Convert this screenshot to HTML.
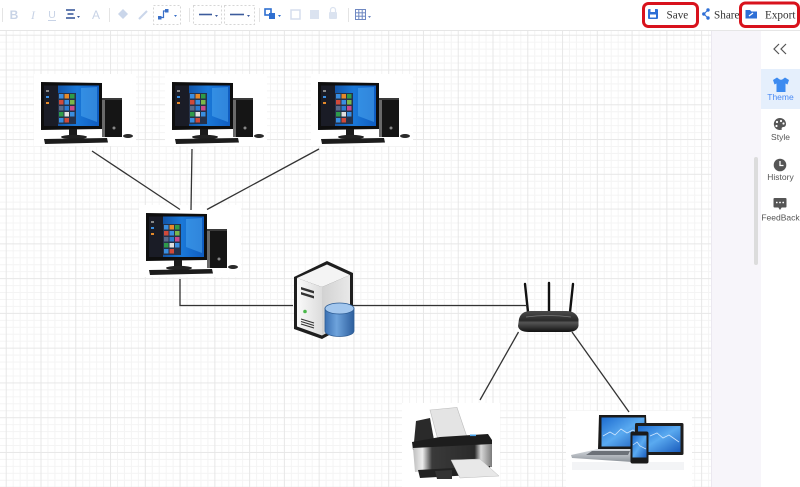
<!DOCTYPE html>
<html><head><meta charset="utf-8">
<style>
html,body{margin:0;padding:0;width:800px;height:487px;overflow:hidden;background:#fff;}
svg{display:block;}
</style></head><body>
<svg width="800" height="487" viewBox="0 0 800 487" xmlns="http://www.w3.org/2000/svg">
<defs>
<pattern id="grid" x="5.73" y="-0.04" width="34.77" height="34.77" patternUnits="userSpaceOnUse">
 <path d="M7.454,0V34.77M14.408,0V34.77M21.362,0V34.77M28.316,0V34.77M0,7.454H34.77M0,14.408H34.77M0,21.362H34.77M0,28.316H34.77" stroke="#f4f4f4" stroke-width="1" fill="none"/>
 <path d="M0.5,0V34.77M0,0.5H34.77" stroke="#e7e7e7" stroke-width="1" fill="none"/>
</pattern>
<linearGradient id="scr" x1="0" y1="0" x2="1" y2="0">
 <stop offset="0" stop-color="#0b3a84"/><stop offset="0.6" stop-color="#1a78d8"/><stop offset="1" stop-color="#0f5cc0"/>
</linearGradient>
<linearGradient id="blue" x1="0" y1="0" x2="1" y2="1">
 <stop offset="0" stop-color="#1d6cd0"/><stop offset="0.5" stop-color="#5aaaf0"/><stop offset="1" stop-color="#1a5cbc"/>
</linearGradient>
<linearGradient id="silver" x1="0" y1="0" x2="0" y2="1">
 <stop offset="0" stop-color="#d9dde2"/><stop offset="1" stop-color="#8e949b"/>
</linearGradient>
<linearGradient id="pfront" x1="0" y1="0" x2="1" y2="0">
 <stop offset="0" stop-color="#bdbdbd"/><stop offset="0.12" stop-color="#eeeeee"/><stop offset="0.24" stop-color="#3a3a3a"/><stop offset="0.78" stop-color="#2a2a2a"/><stop offset="0.86" stop-color="#d8d8d8"/><stop offset="1" stop-color="#7a7a7a"/>
</linearGradient>
<linearGradient id="rbody" x1="0" y1="0" x2="0" y2="1">
 <stop offset="0" stop-color="#4a4a4a"/><stop offset="0.45" stop-color="#2a2a2a"/><stop offset="0.55" stop-color="#555"/><stop offset="1" stop-color="#111"/>
</linearGradient>
<linearGradient id="cyl" x1="0" y1="0" x2="1" y2="0">
 <stop offset="0" stop-color="#3a70b2"/><stop offset="0.4" stop-color="#6ea3dc"/><stop offset="1" stop-color="#2d5f9e"/>
</linearGradient>
<linearGradient id="srvR" x1="0" y1="0" x2="1" y2="0">
 <stop offset="0" stop-color="#d2d2d2"/><stop offset="1" stop-color="#e8e8e8"/>
</linearGradient>
<linearGradient id="srvL" x1="0" y1="0" x2="1" y2="0">
 <stop offset="0" stop-color="#fafafa"/><stop offset="1" stop-color="#dcdcdc"/>
</linearGradient>
<g id="pc">
 <rect x="-7" y="-8" width="102" height="72" fill="#fff"/>
 <path d="M0,0 L61,1 L61,47 L0,48 Z" fill="#0e0e0e"/>
 <rect x="3" y="3.5" width="55" height="40.5" fill="url(#scr)"/>
 <path d="M40,6 L56,5 L56,40 L40,34 Z" fill="#4aa6f0" opacity="0.55"/>
 <rect x="3" y="3.5" width="14" height="40.5" fill="#1a1c26"/>
 <rect x="17" y="11" width="18" height="31" fill="#25324a"/>
 <rect x="18" y="12" width="4.5" height="4.5" fill="#3a8ee0"/>
 <rect x="23.5" y="12" width="4.5" height="4.5" fill="#e58a2a"/>
 <rect x="29" y="12" width="4.5" height="4.5" fill="#2e9b4a"/>
 <rect x="18" y="18" width="4.5" height="4.5" fill="#d04a3a"/>
 <rect x="23.5" y="18" width="4.5" height="4.5" fill="#3a8ee0"/>
 <rect x="29" y="18" width="4.5" height="4.5" fill="#7ab84a"/>
 <rect x="18" y="24" width="4.5" height="4.5" fill="#5a6a8a"/>
 <rect x="23.5" y="24" width="4.5" height="4.5" fill="#2a7ad0"/>
 <rect x="29" y="24" width="4.5" height="4.5" fill="#c84a8a"/>
 <rect x="18" y="30" width="4.5" height="4.5" fill="#2e9b4a"/>
 <rect x="23.5" y="30" width="4.5" height="4.5" fill="#e0e0e0"/>
 <rect x="29" y="30" width="4.5" height="4.5" fill="#3a8ee0"/>
 <rect x="18" y="36" width="4.5" height="4.5" fill="#3a8ee0"/>
 <rect x="23.5" y="36" width="4.5" height="4.5" fill="#d04a3a"/>
 <rect x="5" y="8" width="3" height="2" fill="#888"/>
 <rect x="5" y="14" width="3" height="2" fill="#3a8ee0"/>
 <rect x="5" y="20" width="3" height="2" fill="#e58a2a"/>
 <rect x="28" y="47" width="8" height="7" fill="#1b1b1b"/>
 <ellipse cx="33" cy="55" rx="13" ry="2.2" fill="#222"/>
 <path d="M3,57 L66,56 L67,60.5 L4,62 Z" fill="#1c1c1c"/>
 <rect x="61" y="16" width="20" height="39" fill="#151515"/>
 <rect x="61" y="16" width="3" height="39" fill="#6a6a6a"/>
 <rect x="61" y="16" width="20" height="2" fill="#3a3a3a"/>
 <circle cx="73" cy="46" r="1.5" fill="#888"/>
 <ellipse cx="87" cy="54" rx="5" ry="2" fill="#2a2a2a"/>
</g>
</defs>

<!-- canvas -->
<rect x="0" y="30" width="711" height="457" fill="#fff"/>
<rect x="0" y="30" width="711" height="457" fill="url(#grid)"/>

<!-- right panels -->
<rect x="711" y="30" width="50" height="457" fill="#f7f5fa"/>
<line x1="711.5" y1="30" x2="711.5" y2="487" stroke="#ebe8f0"/>
<rect x="754" y="157" width="4" height="108" rx="2" fill="#dcdcdc"/>
<rect x="761" y="30" width="39" height="457" fill="#fff"/>
<rect x="761" y="69" width="39" height="40" fill="#e5effc"/>
<polyline points="779,44 774,49 779,54" fill="none" stroke="#555" stroke-width="1.2"/>
<polyline points="786,44 781,49 786,54" fill="none" stroke="#555" stroke-width="1.2"/>
<path d="M773,80 L777,77.5 L779,79 Q781,80.5 783,79 L785,77.5 L789,80 L787.5,84.5 L785.5,83.5 L785.5,92 L776.5,92 L776.5,83.5 L774.5,84.5 Z" fill="#3d8bf0"/>
<text x="780.5" y="100" text-anchor="middle" font-family="Liberation Sans, sans-serif" font-size="8.5" fill="#4a8af4">Theme</text>
<path d="M780,118 a6,6 0 1 0 2,11.6 a1.6,1.6 0 0 1 1.5,-2.6 a3,3 0 0 0 2.5,-3 a6,6 0 0 0 -6,-6 Z" fill="#555"/>
<circle cx="777" cy="122" r="1.1" fill="#fff"/><circle cx="781" cy="121" r="1.1" fill="#fff"/><circle cx="776.5" cy="126" r="1.1" fill="#fff"/><circle cx="783.5" cy="123.5" r="1.1" fill="#fff"/>
<text x="780.5" y="140" text-anchor="middle" font-family="Liberation Sans, sans-serif" font-size="8.5" fill="#555">Style</text>
<circle cx="780" cy="165" r="6.3" fill="#555"/>
<path d="M780,161 V165.5 H783.5" fill="none" stroke="#fff" stroke-width="1.3"/>
<text x="780.5" y="180" text-anchor="middle" font-family="Liberation Sans, sans-serif" font-size="8.5" fill="#555">History</text>
<rect x="773.5" y="198" width="13" height="9.5" rx="1" fill="#555"/>
<polygon points="778,207 780,210 782,207" fill="#555"/>
<circle cx="776.8" cy="202.5" r="0.9" fill="#fff"/><circle cx="780" cy="202.5" r="0.9" fill="#fff"/><circle cx="783.2" cy="202.5" r="0.9" fill="#fff"/>
<text x="780.5" y="220.5" text-anchor="middle" font-family="Liberation Sans, sans-serif" font-size="8.5" fill="#555">FeedBack</text>

<!-- toolbar -->
<rect x="0" y="0" width="800" height="30" fill="#fff"/>
<line x1="0" y1="30.5" x2="800" y2="30.5" stroke="#e6e6e6"/>
<g stroke="#e4e4e4" stroke-width="1">
 <line x1="2.5" y1="8" x2="2.5" y2="22"/><line x1="109.5" y1="8" x2="109.5" y2="22"/><line x1="189.5" y1="8" x2="189.5" y2="22"/><line x1="259.5" y1="8" x2="259.5" y2="22"/><line x1="348.5" y1="8" x2="348.5" y2="22"/>
</g>
<text x="14" y="19" text-anchor="middle" font-family="Liberation Sans, sans-serif" font-weight="bold" font-size="12" fill="#c8d3e6">B</text>
<text x="33" y="19" text-anchor="middle" font-family="Liberation Serif, serif" font-style="italic" font-size="12" fill="#c8d3e6">I</text>
<text x="52" y="18" text-anchor="middle" font-family="Liberation Sans, sans-serif" font-size="10.5" fill="#c8d3e6">U</text>
<line x1="48" y1="20.5" x2="56" y2="20.5" stroke="#c8d3e6"/>
<g stroke="#3c5b9c" stroke-width="1.6"><line x1="66" y1="10" x2="75" y2="10"/><line x1="67.5" y1="14" x2="73.5" y2="14"/><line x1="66" y1="18" x2="75" y2="18"/></g>
<polygon points="77,16 80,16 78.5,18" fill="#3c5b9c"/>
<text x="96" y="19" text-anchor="middle" font-family="Liberation Sans, sans-serif" font-size="12" fill="#c8d3e6">A</text>
<path d="M118,14 L123,9 L128,14 L123,19 Z" fill="#cad6ea"/>
<line x1="139" y1="19" x2="147" y2="11" stroke="#cad6ea" stroke-width="2"/>
<rect x="153.5" y="5.5" width="27" height="19" fill="none" stroke="#d6d6d6" stroke-dasharray="2,2"/>
<rect x="158" y="16" width="3.5" height="3.5" fill="#3a70c8"/><rect x="165" y="9" width="3.5" height="3.5" fill="#3a70c8"/>
<path d="M161.5,17.5 H163.5 V11 H165" fill="none" stroke="#3a70c8" stroke-width="1.2"/>
<polygon points="174,15 177,15 175.5,17" fill="#3a70c8"/>
<rect x="193.5" y="5.5" width="28" height="19" fill="none" stroke="#d6d6d6" stroke-dasharray="2,2"/>
<line x1="199" y1="14.5" x2="212" y2="14.5" stroke="#3c5b9c" stroke-width="1.6"/>
<polygon points="215,15 218,15 216.5,17" fill="#3c5b9c"/>
<rect x="224.5" y="5.5" width="30" height="19" fill="none" stroke="#d6d6d6" stroke-dasharray="2,2"/>
<line x1="230" y1="14.5" x2="244" y2="14.5" stroke="#3c5b9c" stroke-width="1.6"/>
<polygon points="247,15 250,15 248.5,17" fill="#3c5b9c"/>
<rect x="265" y="9" width="6" height="6" fill="none" stroke="#2f6fd0" stroke-width="1.6"/>
<rect x="269" y="13" width="6" height="6" fill="#2f6fd0"/>
<polygon points="278,15 281,15 279.5,17" fill="#2f6fd0"/>
<rect x="291" y="10" width="9" height="9" fill="none" stroke="#d5deed" stroke-width="1.5"/>
<rect x="310" y="10" width="9" height="9" fill="#dbe3f0"/>
<rect x="329" y="12" width="8" height="7" rx="1" fill="#dbe3f0"/><path d="M330.5,12 V10 a2.5,2.5 0 0 1 5,0 V12" fill="none" stroke="#dbe3f0" stroke-width="1.2"/>
<g stroke="#6f88c2" stroke-width="1" fill="none"><rect x="355.5" y="9.5" width="10" height="10"/><line x1="358.8" y1="9.5" x2="358.8" y2="19.5"/><line x1="362.2" y1="9.5" x2="362.2" y2="19.5"/><line x1="355.5" y1="12.8" x2="365.5" y2="12.8"/><line x1="355.5" y1="16.2" x2="365.5" y2="16.2"/></g>
<polygon points="368,16 371,16 369.5,18" fill="#6f88c2"/>

<!-- right toolbar -->
<rect x="648" y="9" width="10" height="10" rx="1" fill="#2e6fd6"/>
<rect x="650" y="14.5" width="6" height="3" fill="#fff"/>
<rect x="650.5" y="9" width="4.5" height="3" fill="#fff"/>
<text x="666.5" y="18.5" font-family="Liberation Serif, serif" font-size="11.2" fill="#333">Save</text>
<rect x="643.5" y="3.5" width="54" height="23" rx="5" fill="none" stroke="#d8121c" stroke-width="3"/>
<g fill="#2e6fd6"><circle cx="708" cy="10" r="1.7"/><circle cx="703.8" cy="14" r="1.7"/><circle cx="708" cy="18" r="1.7"/></g>
<path d="M708,10 L703.8,14 L708,18" fill="none" stroke="#2e6fd6" stroke-width="1"/>
<text x="714" y="18.5" font-family="Liberation Serif, serif" font-size="11.2" fill="#333">Share</text>
<path d="M745.5,10 H750 L751.5,11.5 H757 V18.5 H745.5 Z" fill="#2e6fd6"/>
<path d="M749,16 L753,13" stroke="#fff" stroke-width="1.2"/>
<text x="765" y="18.5" font-family="Liberation Serif, serif" font-size="11.2" fill="#333">Export</text>
<rect x="740.5" y="3" width="58" height="23.5" rx="5" fill="none" stroke="#d8121c" stroke-width="3"/>

<!-- computers -->
<use href="#pc" transform="translate(41,82)"/>
<use href="#pc" transform="translate(172,82)"/>
<use href="#pc" transform="translate(318,82)"/>
<use href="#pc" transform="translate(146,213)"/>

<!-- server -->
<polygon points="327,261 353,273 353,322 322,339 294,329 294,277" fill="#1e1e1e"/>
<polygon points="327,264.5 350,275 322,287 297,278" fill="#f4f4f4"/>
<polygon points="297,278 322,287 322,335.5 297,326.5" fill="url(#srvL)"/>
<polygon points="322,287 350,275 350,320.5 322,335.5" fill="url(#srvR)"/>
<polygon points="301,287 314,291 314,293.5 301,289.5" fill="#333"/>
<polygon points="301,292 314,296 314,298.5 301,294.5" fill="#333"/>
<circle cx="305" cy="311.5" r="1.8" fill="#4ab84a"/>
<g stroke="#333" stroke-width="1"><line x1="301" y1="319" x2="314" y2="323"/><line x1="301" y1="321.5" x2="314" y2="325.5"/><line x1="301" y1="324" x2="314" y2="328"/></g>
<path d="M325,308.5 V331 A14.5,5.5 0 0 0 354,331 V308.5 Z" fill="url(#cyl)" stroke="#2e5d95" stroke-width="0.8"/>
<ellipse cx="339.5" cy="308.5" rx="14.5" ry="5.5" fill="#a3c7ee" stroke="#2e5d95" stroke-width="0.8"/>

<!-- router -->
<g stroke="#111" stroke-width="2.4" stroke-linecap="round">
 <line x1="525" y1="284" x2="528" y2="312"/><line x1="549" y1="283" x2="549" y2="312"/><line x1="573" y1="284" x2="570" y2="312"/>
</g>
<path d="M519,319 Q521,311 531,311 L566,311 Q576,311 578.5,319 L578.5,326 Q577,332 568,332 L529,332 Q519,332 518,326 Z" fill="url(#rbody)"/>
<path d="M526,317 Q548,314 571,317" stroke="#777" stroke-width="0.8" fill="none"/>

<!-- printer -->
<rect x="402" y="403" width="98" height="84" fill="#fff"/>
<polygon points="416,421 430,418 434,440 414,442" fill="#2a2a2a"/>
<polygon points="430,410 457,407.5 467,437 438,440" fill="#e4e4e4" stroke="#bdbdbd" stroke-width="0.6"/>
<polygon points="412,442 440,437 488,434 492,440 492,446 413,450" fill="#1d1d1d"/>
<polygon points="413,448 492,444 492,467 415,472" fill="url(#pfront)"/>
<rect x="470" y="434.5" width="6" height="1.6" fill="#4aa3e8"/>
<polygon points="418,470 490,466 490,474 420,478" fill="#222"/>
<polygon points="435,471 452,470 452,479 437,479" fill="#333"/>
<polygon points="451,460 480,459 499,476 460,478" fill="#e8e8e8" stroke="#bbb" stroke-width="0.5"/>

<!-- laptop / tablet / phone -->
<rect x="566" y="411" width="126" height="76" fill="#fff"/>
<rect x="572" y="462" width="112" height="8" fill="#f3f4f6"/>
<polygon points="599,415 646,415 647.5,449.5 598,449.5" fill="#1a1a1a"/>
<rect x="601.5" y="417.5" width="43" height="29" fill="url(#blue)"/>
<polyline points="603,436 610,432 615,435 621,429 627,433 633,430 643,438" fill="none" stroke="#cfe6ff" stroke-width="0.8"/>
<polygon points="598,449 636,449 632,462 572,458 571,455" fill="url(#silver)"/>
<polygon points="592,451 630,451 628,455 586,455" fill="#6c7178"/>
<rect x="635" y="423" width="48.5" height="32" rx="1.5" fill="#1e1e1e"/>
<rect x="638" y="426" width="42.5" height="26" fill="url(#blue)"/>
<polyline points="650,436 657,433 663,438 669,435 679,442" fill="none" stroke="#cfe6ff" stroke-width="0.8"/>
<rect x="630.5" y="431.5" width="18" height="32" rx="2" fill="#1a1a1a"/>
<rect x="632.5" y="435.5" width="14" height="22" fill="url(#blue)"/>
<polyline points="633,445 637,442 640,446 646,449" fill="none" stroke="#cfe6ff" stroke-width="0.7"/>

<!-- connectors -->
<g stroke="#333" stroke-width="1.3" fill="none">
 <line x1="92" y1="151" x2="180" y2="209.5"/>
 <line x1="192" y1="149" x2="191" y2="210"/>
 <line x1="319" y1="149" x2="207" y2="209.5"/>
 <polyline points="180,279 180,305.5 293,305.5"/>
 <line x1="353" y1="305.5" x2="527" y2="305.5"/>
 <line x1="518.5" y1="332" x2="480" y2="400"/>
 <line x1="572" y1="332" x2="629" y2="412"/>
</g>
</svg>
</body></html>
